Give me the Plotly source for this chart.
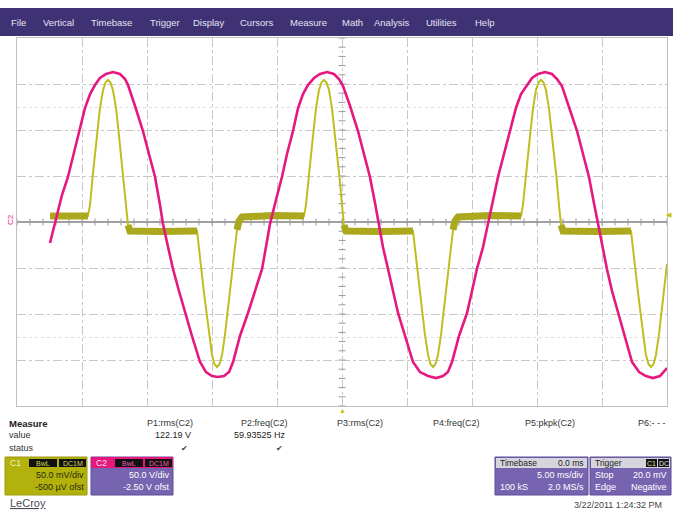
import numpy as np
import plotly.graph_objects as go

# ---------------- data ----------------
# C2 (magenta) line voltage: (time ms, volts)
c2_points = [
    (-22.46, -20.3), (-22.08, 0.3), (-21.54, 31.8), (-21.08, 51.4), (-20.62, 78.6), (-20.23, 101.4),
    (-19.77, 126.4), (-19.38, 141.6), (-19.0, 151.4), (-18.62, 159.0), (-18.15, 163.4), (-17.62, 165.5),
    (-17.08, 163.4), (-16.69, 157.9), (-16.46, 151.4), (-15.92, 128.6), (-15.31, 101.4), (-14.85, 76.4),
    (-14.38, 51.4), (-14.0, 21.0), (-13.77, 0.3), (-13.38, -24.7), (-13.0, -48.6), (-12.54, -72.5),
    (-12.08, -96.4), (-11.54, -121.4), (-10.92, -149.7), (-10.46, -160.6), (-10.0, -164.9), (-9.54, -166.0),
    (-9.08, -164.9), (-8.69, -160.6), (-8.38, -149.7), (-7.85, -121.4), (-7.23, -96.4), (-6.69, -72.5),
    (-6.15, -48.6), (-5.85, -24.7), (-5.54, 0.3), (-5.08, 26.4), (-4.62, 51.4), (-4.23, 76.4),
    (-3.77, 101.4), (-3.38, 126.4), (-3.0, 141.6), (-2.62, 151.4), (-2.15, 159.0), (-1.69, 163.4),
    (-1.15, 165.5), (-0.62, 163.4), (-0.23, 157.9), (0.08, 150.3), (0.62, 128.6), (1.23, 101.4),
    (1.69, 76.4), (2.15, 51.4), (2.54, 23.2), (2.85, 0.3), (3.15, -24.7), (3.54, -48.6),
    (3.92, -72.5), (4.31, -96.4), (4.85, -121.4), (5.46, -149.7), (6.0, -160.6), (6.62, -164.9),
    (7.23, -167.1), (7.77, -164.9), (8.15, -160.6), (8.46, -149.7), (9.0, -121.4), (9.62, -96.4),
    (10.0, -72.5), (10.38, -48.6), (10.85, -24.7), (11.23, 0.3), (11.62, 26.4), (12.0, 51.4),
    (12.46, 76.4), (12.92, 101.4), (13.38, 126.4), (13.77, 141.6), (14.23, 151.4), (14.62, 159.0),
    (15.08, 163.4), (15.62, 165.5), (16.15, 163.4), (16.54, 157.9), (16.92, 150.3), (17.46, 128.6),
    (18.08, 101.4), (18.54, 76.4), (19.0, 51.4), (19.38, 23.2), (19.69, 0.3), (20.0, -24.7),
    (20.38, -48.6), (20.77, -72.5), (21.23, -96.4), (21.77, -121.4), (22.31, -149.7), (22.85, -160.6),
    (23.38, -164.9), (23.92, -167.1), (24.46, -164.9), (25.0, -156.2),
]

# C1 (yellow) current-probe signal: (time ms, mV)
c1_points = [
    (-22.46, 7.0), (-20.9, 7.5), (-19.54, 7.0),
    (-19.38, 19), (-19.19, 49), (-19.0, 74), (-18.81, 99), (-18.62, 124), (-18.38, 144), (-18.19, 152),
    (-18.0, 155), (-17.81, 152), (-17.62, 144), (-17.38, 124), (-17.19, 99), (-17.0, 74), (-16.81, 49),
    (-16.62, 19), (-16.46, -3), (-16.31, -9.3),
    (-14.0, -9.8), (-11.15, -9.3),
    (-11.0, -30), (-10.81, -51), (-10.62, -76), (-10.42, -98), (-10.23, -122), (-10.0, -144), (-9.81, -154),
    (-9.62, -157), (-9.42, -154), (-9.23, -144), (-9.0, -122), (-8.81, -98), (-8.62, -76), (-8.42, -51),
    (-8.23, -30), (-8.08, -8), (-7.92, 1.6), (-7.69, 6.0),
    (-5.3, 7.5), (-2.92, 7.0),
    (-2.77, 19), (-2.58, 49), (-2.38, 74), (-2.19, 99), (-2.0, 124), (-1.77, 144), (-1.58, 152),
    (-1.38, 155), (-1.19, 152), (-1.0, 144), (-0.77, 124), (-0.58, 99), (-0.38, 74), (-0.19, 49),
    (0.0, 19), (0.15, -3), (0.31, -9.3),
    (2.9, -9.8), (5.46, -9.3),
    (5.62, -30), (5.81, -51), (6.0, -76), (6.19, -98), (6.38, -122), (6.62, -144), (6.81, -154),
    (7.0, -157), (7.19, -154), (7.38, -144), (7.62, -122), (7.81, -98), (8.0, -76), (8.19, -51),
    (8.38, -30), (8.54, -8), (8.69, 1.6), (8.92, 6.0),
    (11.4, 7.5), (13.77, 7.0),
    (13.92, 19), (14.12, 49), (14.31, 74), (14.5, 99), (14.69, 124), (14.92, 144), (15.12, 152),
    (15.31, 155), (15.5, 152), (15.69, 144), (15.92, 124), (16.12, 99), (16.31, 74), (16.5, 49),
    (16.69, 19), (16.85, -3), (17.0, -9.3),
    (19.6, -9.8), (22.23, -9.3),
    (22.38, -30), (22.58, -51), (22.77, -76), (22.96, -98), (23.15, -122), (23.38, -144), (23.58, -154),
    (23.77, -157), (23.96, -154), (24.15, -144), (24.38, -122), (24.58, -98), (24.77, -76), (25.0, -45),
]

menu_items = ["File", "Vertical", "Timebase", "Trigger", "Display", "Cursors",
              "Measure", "Math", "Analysis", "Utilities", "Help"]
param_headers = ["P1:rms(C2)", "P2:freq(C2)", "P3:rms(C2)", "P4:freq(C2)", "P5:pkpk(C2)", "P6:- - -"]
param_values = ["122.19 V", "59.93525 Hz", "", "", "", ""]
param_status = ["\u2714", "\u2714", "", "", "", ""]

C1_SCALE, C1_OFFSET = 50.0, -0.5   # mV/div, mV
C2_SCALE, C2_OFFSET = 50.0, -2.5   # V/div, V
TIME_DIV = 5.0                    # ms/div

# ---------------- figure ----------------
W, H = 673, 513
L, R, T, B = 17, 6, 38, 107
PW, PH = W - L - R, H - T - B
FONT = "Liberation Sans"
MAG = "#e6177f"
PURP = "#7664b0"

def px(x):
    return (x - L) / PW

def py(y):
    return (H - B - y) / PH

c2_t, c2_v = zip(*c2_points)
c1_t, c1_v = zip(*c1_points)
c1_flat = [v if abs(v) < 14 else None for v in c1_v]

fig = go.Figure()

# centre-cross tick marks
fig.add_trace(go.Scatter(x=np.arange(-5 * TIME_DIV, 5 * TIME_DIV + 0.01, TIME_DIV / 5),
                         y=[0] * 51, mode="markers", hoverinfo="skip",
                         marker=dict(symbol="line-ns", size=5, line=dict(width=1, color="#9a9a9a")),
                         showlegend=False))
fig.add_trace(go.Scatter(x=[0] * 41, y=np.arange(-4, 4.01, 0.2), mode="markers", hoverinfo="skip",
                         marker=dict(symbol="line-ew", size=5, line=dict(width=1, color="#9a9a9a")),
                         showlegend=False))

# C1 trace: thin line + noisy flat band
fig.add_trace(go.Scatter(x=c1_t, y=c1_v, yaxis="y2", mode="lines",
                         line=dict(color="#c0be1e", width=2), showlegend=False))
fig.add_trace(go.Scatter(x=c1_t, y=c1_flat, yaxis="y2", mode="lines", connectgaps=False,
                         line=dict(color="#aba81e", width=7), showlegend=False, hoverinfo="skip"))
# C2 trace
fig.add_trace(go.Scatter(x=c2_t, y=c2_v, yaxis="y3", mode="lines",
                         line=dict(color=MAG, width=2.6), showlegend=False))

grid = dict(showgrid=True, gridcolor="#c8c8c8", griddash="dashdot", gridwidth=1,
            showticklabels=False, ticks="", showline=True, mirror=True, linecolor="#c0c0c0")

fig.update_layout(
    width=W, height=H,
    margin=dict(l=L, r=R, t=T, b=B),
    paper_bgcolor="white", plot_bgcolor="white",
    font=dict(family=FONT, size=9, color="#333"),
    xaxis=dict(range=[-5 * TIME_DIV, 5 * TIME_DIV], dtick=TIME_DIV, tick0=0, zeroline=False, **grid),
    yaxis=dict(range=[-4, 4], dtick=1, tick0=0, zeroline=True, zerolinecolor="#a0a0a0",
               zerolinewidth=1.5,
               minor=dict(tickvals=[-2.5, 2.5], showgrid=True, griddash="dot", gridcolor="#dcdcdc"),
               **grid),
    yaxis2=dict(range=[-4 * C1_SCALE - C1_OFFSET, 4 * C1_SCALE - C1_OFFSET], overlaying="y", visible=False),
    yaxis3=dict(range=[-4 * C2_SCALE - C2_OFFSET, 4 * C2_SCALE - C2_OFFSET], overlaying="y", visible=False),
)

shapes = []
ann = []

def rect(x0, y0, x1, y1, fill, line=None):
    shapes.append(dict(type="rect", xref="paper", yref="paper", x0=px(x0), x1=px(x1),
                       y0=py(y1), y1=py(y0), fillcolor=fill,
                       line=dict(width=1 if line else 0, color=line or fill), layer="above"))

def text(s, x, y, size=9, color="#333", anchor="left", **kw):
    ann.append(dict(text=s, x=px(x), y=py(y), xref="paper", yref="paper", showarrow=False,
                    xanchor=anchor, yanchor="middle", font=dict(size=size, color=color, family=FONT), **kw))

# menu bar
rect(0, 8, 673, 36, "#3e3274")
menu_x = [9, 41, 89, 148, 191, 238, 288, 340, 372, 424, 473]
for s, x in zip(menu_items, menu_x):
    text(s, x, 22, size=9.5, color="#e4e2f2")

# channel markers
text("C2", 10, 220, size=8, color=MAG, anchor="center", textangle=-90)
ann.append(dict(text="\u25c0", x=px(669), y=py(214), xref="paper", yref="paper", showarrow=False,
                xanchor="center", yanchor="middle", font=dict(size=7, color="#c8c000")))
ann.append(dict(text="\u25b2", x=0, y=py(411), xref="x", yref="paper", showarrow=False,
                xanchor="center", yanchor="middle", font=dict(size=7, color="#c8c000")))

# measurement table
text("<b>Measure</b>", 7, 423, size=9.5, color="#222")
text("value", 7, 435, size=9, color="#333")
text("status", 7, 448, size=9, color="#333")
hdr_x = [195, 290, 385, 482, 577, 668]
for h, v, s, x in zip(param_headers, param_values, param_status, hdr_x):
    text(h, x, 423, size=9, color="#333", anchor="right")
    if v:
        text(v, x - 2, 435, size=9, color="#222", anchor="right")
    if s:
        text(s, x - 5, 448, size=8, color="#444", anchor="right")

# C1 box
rect(5, 457, 87, 495, "#b3b10c", "#9c9a10")
text("C1", 8, 463, size=8.5, color="#f2f2c8")
rect(29, 459, 57, 467, "#111111")
rect(59, 459, 86, 467, "#111111")
text("BwL", 43, 463, size=7, color="#d8d650", anchor="center")
text("DC1M", 72.5, 463, size=7, color="#d8d650", anchor="center")
text("50.0 mV/div", 86, 475, size=9, color="#2a2a10", anchor="right")
text("-500 \u00b5V ofst", 86, 487, size=9, color="#2a2a10", anchor="right")

# C2 box
rect(91, 457, 173, 495, PURP, "#5c4c96")
rect(91, 457, 173, 468, MAG)
text("C2", 94, 463, size=8.5, color="#ffe0f0")
rect(115, 459, 143, 467, "#111111")
rect(145, 459, 172, 467, "#111111")
text("BwL", 129, 463, size=7, color="#f060a8", anchor="center")
text("DC1M", 158.5, 463, size=7, color="#f060a8", anchor="center")
text("50.0 V/div", 172, 475, size=9, color="white", anchor="right")
text("-2.50 V ofst", 172, 487, size=9, color="white", anchor="right")

text("<u>LeCroy</u>", 8, 503, size=11, color="#4a4a55")

# Timebase box
rect(495, 457, 588, 495, PURP, "#5c4c96")
rect(496, 458, 587, 468, "#d6d5de")
text("Timebase", 498, 463, size=8.5, color="#222")
text("0.0 ms", 586, 463, size=8.5, color="#222", anchor="right")
text("5.00 ms/div", 586, 475, size=9, color="white", anchor="right")
text("100 kS", 498, 487, size=9, color="white")
text("2.0 MS/s", 586, 487, size=9, color="white", anchor="right")

# Trigger box
rect(590, 457, 671, 495, PURP, "#5c4c96")
rect(591, 458, 670, 468, "#d6d5de")
text("Trigger", 593, 463, size=8.5, color="#222")
rect(646, 459, 657, 467, "#111111")
rect(658, 459, 669, 467, "#111111")
text("C1", 651.5, 463, size=7, color="#e0e0a0", anchor="center")
text("DC", 663.5, 463, size=7, color="#e0e0e0", anchor="center")
text("Stop", 593, 475, size=9, color="white")
text("20.0 mV", 669, 475, size=9, color="white", anchor="right")
text("Edge", 593, 487, size=9, color="white")
text("Negative", 669, 487, size=9, color="white", anchor="right")

text("3/22/2011 1:24:32 PM", 664, 505, size=9, color="#444", anchor="right")

fig.update_layout(shapes=shapes, annotations=ann)
fig.write_html("out.html", config={"displayModeBar": False},
               post_script="document.body.style.margin='0px';document.body.style.overflow='hidden';")
